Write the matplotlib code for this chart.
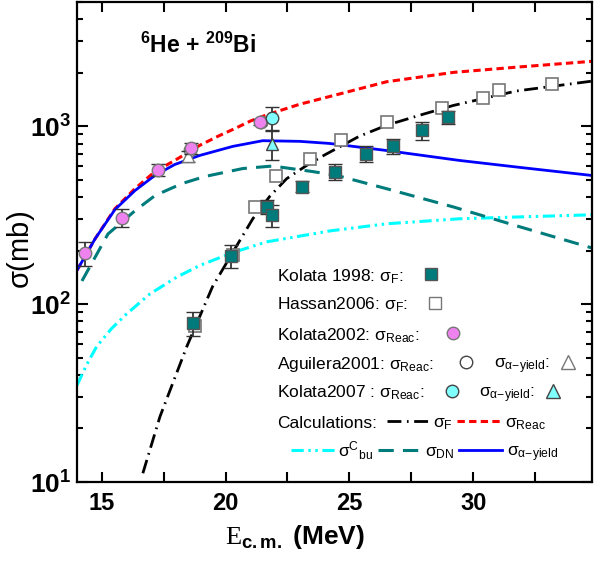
import math
import matplotlib
matplotlib.use("Agg")
import matplotlib.pyplot as plt
from matplotlib.ticker import FixedLocator, LogLocator, FuncFormatter, NullFormatter

plt.rcParams['font.family'] = ['Liberation Sans', 'DejaVu Sans']
plt.rcParams['mathtext.fontset'] = 'custom'
plt.rcParams['mathtext.rm'] = 'Liberation Sans'
plt.rcParams['mathtext.it'] = 'Liberation Sans:italic'
plt.rcParams['mathtext.bf'] = 'Liberation Sans:bold'
plt.rcParams['mathtext.sf'] = 'Liberation Serif'

# experimental data
kol98_E = [18.68, 20.2, 21.66, 21.86, 23.07, 24.4, 25.69, 26.78, 27.95, 29.0]
kol98_s = [78, 187, 353, 318, 458, 557, 703, 771, 948, 1125]
kol98_err = [12, 27, 30, 45, 32, 55, 70, 75, 110, 100]

has06_E = [18.75, 20.3, 21.2, 22.02, 23.4, 24.65, 26.54, 28.76, 30.41, 31.06, 33.19]
has06_s = [75, 190, 353, 528, 659, 833, 1054, 1265, 1439, 1597, 1727]

kol02_E = [14.32, 15.81, 17.27, 18.6, 21.38]
kol02_s = [194, 306, 571, 751, 1060]
kol02_err = [30, 35, 43, 50, 40]

agu01_reac_E = [18.55, 21.45]
agu01_reac_s = [740, 1060]
agu01_alpha_E = [18.48]
agu01_alpha_s = [680]
agu01_alpha_err = [50]

kol07_reac_E = [21.86]
kol07_reac_s = [1110]
kol07_reac_err = [170]
kol07_alpha_E = [21.86]
kol07_alpha_s = [800]
kol07_alpha_err = [150]

# calculations
fus_E = [16.66, 17.35, 18.44, 19.48, 20.45, 21.1, 21.78, 22.47, 23.27, 24.0, 25.4, 26.5, 27.83, 29.2, 31.74, 34.8]
fus_s = [11.2, 23.3, 58, 126, 213, 302, 403, 508, 602, 690, 879, 1013, 1153, 1310, 1579, 1795]

reac_E = [14.0, 14.73, 15.53, 16.34, 17.15, 17.95, 18.96, 19.7, 20.4, 21.0, 21.66, 22.99, 24.2, 26.5, 29.2, 31.74, 34.8]
reac_s = [155, 233, 344, 446, 557, 643, 782, 880, 975, 1070, 1160, 1330, 1470, 1780, 2010, 2150, 2320]

bu_E = [14.0, 14.4, 14.8, 15.4, 16.0, 16.94, 18.03, 18.96, 20.29, 21.66, 24.2, 26.5, 29.44, 31.74, 34.8]
bu_s = [35, 46, 58, 73, 88, 114, 142, 165, 195, 224, 258, 283, 302, 309, 318]

dn_E = [14.2, 15.25, 16.34, 17.15, 18.23, 19.16, 20.7, 21.9, 23.5, 24.5, 26.5, 29.2, 31.74, 34.8]
dn_s = [135, 248, 335, 408, 476, 522, 579, 598, 557, 529, 446, 352, 276, 207]

alpha_E = [14.0, 14.73, 15.53, 16.34, 17.15, 17.95, 18.96, 20.29, 21.5, 23.0, 24.2, 26.5, 29.44, 32.0, 34.8]
alpha_s = [155, 233, 340, 435, 530, 610, 686, 771, 830, 823, 801, 731, 643, 585, 529]

teal = '#007b7b'
fig = plt.figure(figsize=(5.94, 5.67), dpi=100)
ax = fig.add_axes([77/594, 85/567, 515/594, 480/567])

ls_fus = (0, (5, 2, 0.6, 2))
ls_reac = (0, (2.4, 1.4))
ls_bu = (0, (4, 1.5, 0.8, 1.5, 0.8, 1.5))
ls_dn = (0, (5, 3))

ax.plot(fus_E, fus_s, color='black', lw=2, ls=ls_fus, zorder=2)
ax.plot(reac_E, reac_s, color='red', lw=2.2, ls=ls_reac, zorder=2)
ax.plot(bu_E, bu_s, color='cyan', lw=2.2, ls=ls_bu, zorder=2)
ax.plot(dn_E, dn_s, color=teal, lw=2.2, ls=ls_dn, zorder=2)
ax.plot(alpha_E, alpha_s, color='blue', lw=2, zorder=2)

eb = dict(ecolor='#333333', elinewidth=1.3, capsize=5, capthick=1.3, ls='none')
ax.plot(has06_E, has06_s, 's', ms=8, mfc='white', mec='#777777', mew=1.2, zorder=3)
ax.errorbar(kol98_E, kol98_s, yerr=kol98_err, fmt='s', ms=8, mfc=teal, mec='#555555',
            mew=1, zorder=4, **eb)
ax.plot(agu01_reac_E, agu01_reac_s, 'o', ms=9, mfc='white', mec='#777777', mew=1, zorder=3)
ax.errorbar(agu01_alpha_E, agu01_alpha_s, yerr=agu01_alpha_err, fmt='^', ms=9, mfc='white',
            mec='#777777', mew=1, zorder=3, **eb)
ax.errorbar(kol02_E, kol02_s, yerr=kol02_err, fmt='o', ms=9, mfc='violet', mec='#777777',
            mew=1, zorder=5, **eb)
ax.errorbar(kol07_alpha_E, kol07_alpha_s, yerr=kol07_alpha_err, fmt='^', ms=9, mfc='#80ffff',
            mec='#444444', mew=1, zorder=5, **eb)
ax.errorbar(kol07_reac_E, kol07_reac_s, yerr=kol07_reac_err, fmt='o', ms=9, mfc='#80ffff',
            mec='#444444', mew=1, zorder=6, **eb)

ax.set_yscale('log')
ax.set_xlim(14, 34.8)
ax.set_ylim(10, 5000)
ax.xaxis.set_major_locator(FixedLocator([15, 20, 25, 30]))
ax.xaxis.set_minor_locator(FixedLocator([17.5, 22.5, 27.5, 32.5]))
ax.yaxis.set_major_locator(LogLocator(base=10))
ax.yaxis.set_minor_locator(LogLocator(base=10, subs=range(2, 10)))
ax.yaxis.set_minor_formatter(NullFormatter())
ax.yaxis.set_major_formatter(FuncFormatter(lambda v, p: r'$\mathbf{10^{%d}}$' % round(math.log10(v))))
ax.tick_params(which='both', direction='in', top=True, right=True, width=1.5)
ax.tick_params(axis='x', which='both', length=7, labelsize=17, pad=7)
ax.tick_params(axis='y', which='major', length=8, labelsize=19, pad=4)
ax.tick_params(axis='y', which='minor', length=4)
for lab in ax.get_xticklabels():
    lab.set_fontweight('bold')
for sp in ax.spines.values():
    sp.set_linewidth(1.6)

S = r'\mathrm{\sigma}'
A = r'\mathrm{\alpha}'

ax.set_ylabel(r'$%s$(mb)' % S, fontsize=21)
ax.yaxis.set_label_coords(-0.078, 0.483)
ax.set_xlabel(r'$\mathsf{E}_{\mathbf{c.m.}}$ (MeV)', fontsize=19, fontweight='bold')
ax.xaxis.set_label_coords(0.423, -0.085)

ax.text(0.122, 0.895, r'$^{\mathbf{6}}$He + $^{\mathbf{209}}$Bi', transform=ax.transAxes,
        fontsize=16.5, fontweight='bold')

# hand-made legend
tr = ax.transAxes
fs = 12.5
rows = [0.433, 0.373, 0.310, 0.250, 0.190, 0.127, 0.067]

def txt(x, y, s):
    ax.text(x, y - 0.014, s, transform=tr, fontsize=fs, va='baseline', ha='left')

def mark(x, y, **kw):
    ax.plot([x], [y], transform=tr, ls='none', clip_on=False, **kw)

def seg(x0, x1, y, **kw):
    ax.plot([x0, x1], [y, y], transform=tr, **kw)

ay = r'%s_{%s\mathrm{-yield}}' % (S, A)
txt(0.388, rows[0], r'Kolata 1998: $%s_{\mathrm{F}}$:' % S)
mark(0.687, rows[0], marker='s', ms=8, mfc=teal, mec='#555555')
txt(0.388, rows[1], r'Hassan2006: $%s_{\mathrm{F}}$:' % S)
mark(0.695, rows[1], marker='s', ms=8, mfc='white', mec='#777777')
txt(0.388, rows[2], r'Kolata2002: $%s_{\mathrm{Reac}}$:' % S)
mark(0.730, rows[2], marker='o', ms=9, mfc='violet', mec='#777777')
txt(0.388, rows[3], r'Aguilera2001: $%s_{\mathrm{Reac}}$:' % S)
mark(0.755, rows[3], marker='o', ms=9, mfc='white', mec='#444444')
txt(0.810, rows[3], r'$%s$:' % ay)
mark(0.953, rows[3], marker='^', ms=10, mfc='white', mec='#777777')
txt(0.388, rows[4], r'Kolata2007 : $%s_{\mathrm{Reac}}$:' % S)
mark(0.728, rows[4], marker='o', ms=9, mfc='#80ffff', mec='#444444')
txt(0.781, rows[4], r'$%s$:' % ay)
mark(0.924, rows[4], marker='^', ms=10, mfc='#80ffff', mec='#444444')
txt(0.388, rows[5], 'Calculations:')
seg(0.602, 0.685, rows[5], color='black', lw=2, ls=ls_fus)
txt(0.691, rows[5], r'$%s_{\mathrm{F}}$' % S)
seg(0.738, 0.821, rows[5], color='red', lw=2.2, ls=ls_reac)
txt(0.831, rows[5], r'$%s_{\mathrm{Reac}}$' % S)
seg(0.416, 0.503, rows[6], color='cyan', lw=2.2, ls=ls_bu)
txt(0.507, rows[6], r'$%s^{\mathrm{C}}{}_{\mathrm{bu}}$' % S)
seg(0.584, 0.662, rows[6], color=teal, lw=2.2, ls=ls_dn)
txt(0.676, rows[6], r'$%s_{\mathrm{DN}}$' % S)
seg(0.742, 0.825, rows[6], color='blue', lw=2)
txt(0.835, rows[6], r'$%s$' % ay)

fig.savefig('out.png', dpi=100)
